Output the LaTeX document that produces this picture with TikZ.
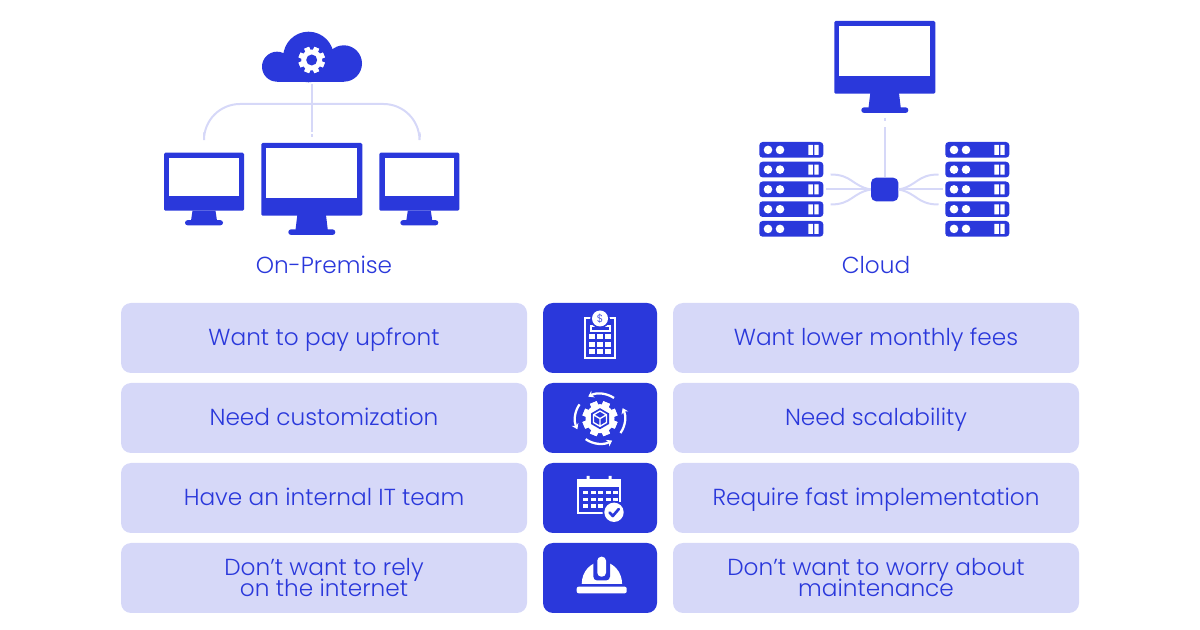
\documentclass[tikz,border=0pt]{standalone}
\usepackage{fontspec}
\setmainfont{Poppins}[UprightFont=* Light]
\usetikzlibrary{arrows.meta}
\definecolor{brand}{HTML}{2A38DB}
\definecolor{pale}{HTML}{D6D8F8}
\newcommand{\cardfont}{\fontsize{17.4}{16.5}\selectfont}
\newcommand{\cardline}[1]{\rule[-1.5pt]{0pt}{15pt}\smash{#1}}
\tikzset{
  card/.style={fill=pale,rounded corners=7.5pt,minimum width=304.5pt,minimum height=52.5pt,inner sep=0pt,text=brand,align=center,font=\cardfont},
  midcard/.style={fill=brand,rounded corners=7.5pt,minimum width=85.5pt,minimum height=52.5pt,inner sep=0pt},
  caption/.style={text=brand,font=\fontsize{17.4}{18}\selectfont,inner sep=0pt},
  wire/.style={draw=pale,line width=1.5pt}
}
\newcommand{\smallmon}[2]{\begin{scope}[shift={(#1,#2)}]
  \fill[brand,rounded corners=1pt] (0,0) rectangle (80,58);
  \fill[white] (5.3,5.5) rectangle (74.7,43);
  \fill[brand] (28.5,58) -- (51.5,58) -- (53,68) -- (27,68) -- cycle;
  \fill[brand,rounded corners=1.9pt] (21,67.5) rectangle (59,72.6);
\end{scope}}
\newcommand{\largemon}[2]{\begin{scope}[shift={(#1,#2)}]
  \fill[brand,rounded corners=1pt] (0,0) rectangle (101,72.7);
  \fill[white] (5,5.3) rectangle (96,54.7);
  \fill[brand] (36,72) -- (64.7,72) -- (66.5,87) -- (34.2,87) -- cycle;
  \fill[brand,rounded corners=2.1pt] (27,86.3) rectangle (74,92);
\end{scope}}
\newcommand{\serverrow}[2]{\begin{scope}[shift={(#1,#2)}]
  \fill[brand,rounded corners=2.5pt] (0,0) rectangle (64,15.7);
  \fill[white] (8.7,7.9) circle (4.3) (20.7,7.9) circle (4.3);
  \fill[white] (49,3) rectangle (53.5,13) (55,3) rectangle (59.3,13);
\end{scope}}
\newcommand{\serverstack}[1]{\foreach \yy in {142,161.7,181.5,201.3,221}{\serverrow{#1}{\yy}}}
\newcommand{\teeth}[5]{\foreach \a in {0,45,...,315}{\fill[#5,shift={(#1,#2)},rotate=\a+22.5] (-#4,-#3) rectangle (#4,#3);}}
\begin{document}
\begin{tikzpicture}[x=0.75pt,y=-0.75pt]
\useasboundingbox (0,0) rectangle (1200,630);
% on-premise connectors
\coordinate (cloudbase) at (312,84);
\coordinate (midend) at (312,132.5);
\coordinate (leftend) at (204,132.5);
\coordinate (rightend) at (419.5,132.5);
\coordinate (leftdot) at (204,134.5);
\coordinate (leftdotb) at (204,137.5);
\coordinate (middot) at (312,134.5);
\coordinate (middotb) at (312,137.5);
\coordinate (rightdot) at (419.5,134.5);
\coordinate (rightdotb) at (419.5,137.5);
\draw[wire] (cloudbase) -- (midend);
\draw[wire,rounded corners=27pt] (leftend) -- (204,104) -- (419.5,104) -- (rightend);
\draw[wire] (leftdot) -- (leftdotb) (middot) -- (middotb) (rightdot) -- (rightdotb);
% cloud
\fill[brand] (308.5,57) circle (25.3) (277,66.7) circle (15) (343.8,63.5) circle (18.2);
\fill[brand] (277,60) rectangle (344,81.7);
\fill[white] (311.7,60) circle (10.5);
\teeth{311.7}{60}{13.2}{2.6}{white}
\fill[brand] (311.7,60) circle (5.5);
% monitors
\smallmon{164}{152.7}
\largemon{261.3}{143}
\smallmon{379.3}{152.7}
\largemon{834.3}{21}
% cloud connectors
\node[fill=brand,rounded corners=3.8pt,minimum width=20.5pt,minimum height=17.7pt,inner sep=0pt] (hub) at (884.7,189.5) {};
\coordinate (topend) at (884.7,127);
\coordinate (topdot) at (884.7,118);
\coordinate (topdotb) at (884.7,121);
\coordinate (la) at (830.7,174.5);
\coordinate (lb) at (826,189.5);
\coordinate (lc) at (830.7,204.5);
\coordinate (ra) at (938.5,174.5);
\coordinate (rb) at (943,189.5);
\coordinate (rc) at (938.5,204.5);
\draw[wire] (hub.north) -- (topend);
\draw[wire] (topdot) -- (topdotb);
\draw[wire] (hub.west) -- (lb) (hub.east) -- (rb);
\draw[wire] (hub.west) .. controls (852,186) and (852,174.5) .. (la);
\draw[wire] (hub.west) .. controls (852,193) and (852,204.5) .. (lc);
\draw[wire] (hub.east) .. controls (917,186) and (917,174.5) .. (ra);
\draw[wire] (hub.east) .. controls (917,193) and (917,204.5) .. (rc);
\serverstack{759.3}
\serverstack{945.3}
% captions
\node[caption] (onprem) at (324,265) {On-Premise};
\node[caption] (cloudcap) at (876,265) {Cloud};
% cards
\node[card] (l1) at (324,338) {\cardline{Want to pay upfront}};
\node[card] (l2) at (324,418) {\cardline{Need customization}};
\node[card] (l3) at (324,498) {\cardline{Have an internal IT team}};
\node[card] (l4) at (324,578) {\cardline{Don’t want to rely}\\\cardline{on the internet}};
\node[midcard] (m1) at (600,338) {};
\node[midcard] (m2) at (600,418) {};
\node[midcard] (m3) at (600,498) {};
\node[midcard] (m4) at (600,578) {};
\node[card] (r1) at (876,338) {\cardline{Want lower monthly fees}};
\node[card] (r2) at (876,418) {\cardline{Need scalability}};
\node[card] (r3) at (876,498) {\cardline{Require fast implementation}};
\node[card] (r4) at (876,578) {\cardline{Don’t want to worry about}\\\cardline{maintenance}};
% icon 1: budget clipboard
\draw[white,line width=1.6pt] (585.3,317.8) rectangle (615,358.3);
\fill[white] (589.5,325) rectangle (610.5,331.7);
\fill[brand] (591.5,327) rectangle (608.5,329.7);
\fill[brand] (600,318.5) circle (9.8);
\fill[white] (600,318.5) circle (8);
\node[text=brand,font=\fontsize{8}{8}\selectfont,inner sep=0pt] (dollar) at (600,318.5) {\$};
\foreach \cy in {334,341.7,349.3}{\foreach \cx in {589.3,597,605}{\fill[white] (\cx,\cy) rectangle +(5.8,5.2);}}
% icon 2: gear with arrows
\fill[white] (600,418.7) circle (14.5);
\teeth{600}{418.7}{17.5}{3.6}{white}
\fill[brand] (600,408.2) -- (609,413.4) -- (609,424) -- (600,429.2) -- (591,424) -- (591,413.4) -- cycle;
\draw[white,line width=1pt,line join=round] (600,411) -- (606.5,414.8) -- (600,418.6) -- (593.5,414.8) -- cycle (593.5,414.8) -- (593.5,422.5) -- (600,426.3) -- (606.5,422.5) -- (606.5,414.8) (600,418.6) -- (600,426.3);
\begin{scope}[shift={(600,418.7)}]
\draw[white,line width=1.7pt,-{Stealth[length=4pt,width=5.5pt]}] (-56:25) arc (-56:-118:25);
\draw[white,line width=1.7pt,-{Stealth[length=4pt,width=5.5pt]}] (215:25) arc (215:155:25);
\draw[white,line width=1.7pt,-{Stealth[length=4pt,width=5.5pt]}] (125:25) arc (125:61:25);
\draw[white,line width=1.7pt,-{Stealth[length=4pt,width=5.5pt]}] (35:25) arc (35:-25:25);
\end{scope}
% icon 3: calendar
\draw[white,line width=1.5pt] (604,513) -- (578.3,513) -- (578.3,480) -- (620,480) -- (620,502);
\fill[white] (578.3,480) rectangle (620,487.5);
\fill[white] (586.5,476) rectangle (589.5,484) (608.5,476) rectangle (611.5,484);
\foreach \cy in {491,497.7,504.3}{\foreach \cx in {583,590.5,598,605.5,613}{\fill[white] (\cx,\cy) rectangle +(5,3.4);}}
\fill[brand] (614,512.3) circle (11.5);
\fill[white] (614,512.3) circle (9.7);
\draw[brand,line width=2pt,line cap=round,line join=round] (609.5,512.5) -- (612.8,516) -- (618.8,509);
% icon 4: helmet
\fill[white] (581.7,584) arc (180:360:20.2 and 22.3) -- cycle;
\fill[brand,rounded corners=3pt] (593.3,556) rectangle (610,580.5);
\fill[white,rounded corners=3pt] (597.3,556.7) rectangle (606,576.7);
\fill[white,rounded corners=1.5pt] (576.7,586.7) rectangle (626.7,593.3);
\end{tikzpicture}
\end{document}
